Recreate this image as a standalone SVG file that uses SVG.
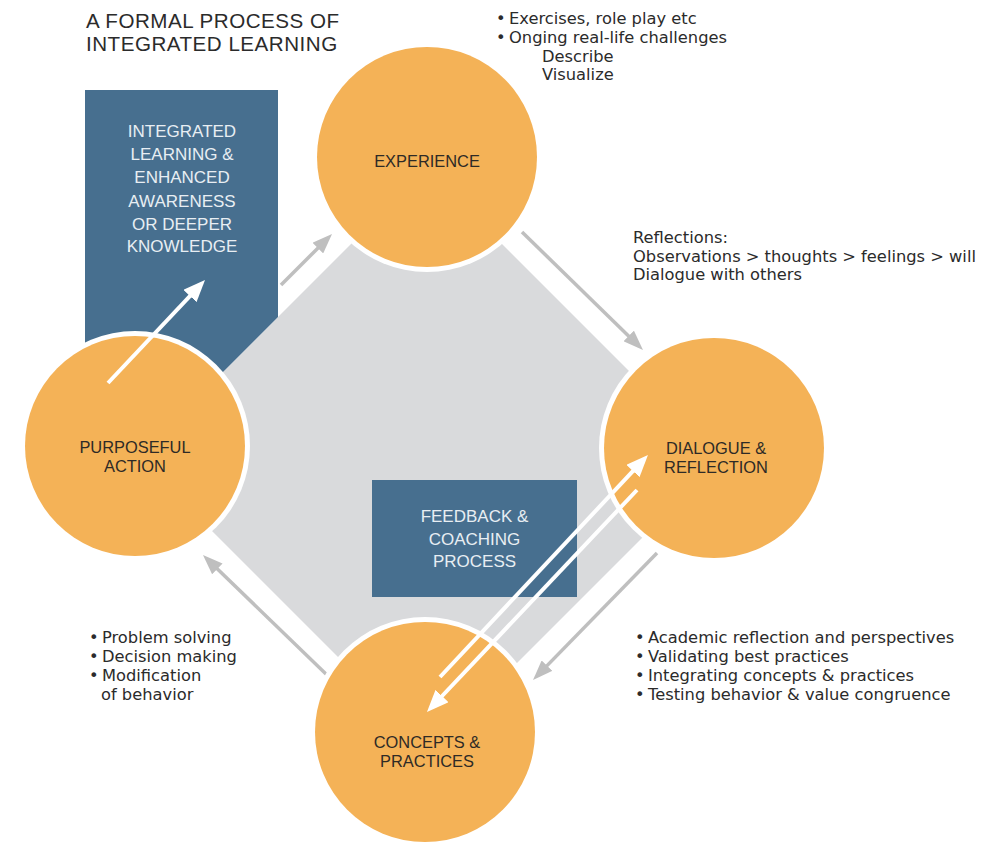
<svg xmlns="http://www.w3.org/2000/svg" width="997" height="847" viewBox="0 0 997 847">
  <defs>
    <style>
      .bg { fill: #ffffff; }
      .diamond { fill: #d9dadc; }
      .box { fill: #476f8f; }
      .ring { fill: #ffffff; }
      .disc { fill: #f4b257; }
      .lbl { font-family: "Liberation Sans", Arial, sans-serif; font-size: 16.4px; fill: #2e2a26; text-anchor: middle; }
      .boxlbl { font-family: "Liberation Sans", Arial, sans-serif; font-size: 17px; fill: #e8eef3; text-anchor: middle; }
      .title { font-family: "Liberation Sans", Arial, sans-serif; font-size: 20.6px; letter-spacing: 0.5px; fill: #2b2b2b; }
      .note { font-family: "DejaVu Sans", sans-serif; font-size: 16.3px; fill: #2b2b2b; }
      .garrow { stroke: #bfbfbf; stroke-width: 3.5; fill: none; marker-end: url(#ghead); }
      .warrow { stroke: #ffffff; stroke-width: 4; fill: none; marker-end: url(#whead); }
    </style>
    <marker id="ghead" markerUnits="userSpaceOnUse" markerWidth="20" markerHeight="15" refX="2" refY="7.5" orient="auto" viewBox="0 0 20 15">
      <path d="M0,0 L20,7.5 L0,15 z" fill="#bfbfbf"/>
    </marker>
    <marker id="whead" markerUnits="userSpaceOnUse" markerWidth="22" markerHeight="18" refX="2" refY="9" orient="auto" viewBox="0 0 22 18">
      <path d="M0,0 L22,9 L0,18 z" fill="#ffffff"/>
    </marker>
  </defs>

  <rect class="bg" x="0" y="0" width="997" height="847"/>

  <g id="title">
    <text class="title" x="86" y="27.5">A FORMAL PROCESS OF</text>
    <text class="title" x="86" y="51">INTEGRATED LEARNING</text>
  </g>

  <g id="background-diamond">
    <polygon class="diamond" points="426.5,168.5 719,461 430.5,749.5 138,457"/>
  </g>

  <g id="node-integrated-learning">
    <polygon class="box" points="85,90 278,90 278,317 205,390 85,390"/>
    <text class="boxlbl" x="182" y="137">INTEGRATED</text>
    <text class="boxlbl" x="182" y="160">LEARNING &amp;</text>
    <text class="boxlbl" x="182" y="183">ENHANCED</text>
    <text class="boxlbl" x="182" y="207">AWARENESS</text>
    <text class="boxlbl" x="182" y="230">OR DEEPER</text>
    <text class="boxlbl" x="182" y="252">KNOWLEDGE</text>
  </g>

  <g id="node-feedback">
    <rect class="box" x="372" y="480" width="205" height="117"/>
    <text class="boxlbl" x="474.5" y="522">FEEDBACK &amp;</text>
    <text class="boxlbl" x="474.5" y="545">COACHING</text>
    <text class="boxlbl" x="474.5" y="567">PROCESS</text>
  </g>

  <g id="connectors-cycle">
    <line class="garrow" x1="281" y1="285" x2="319.3" y2="246.7"/>
    <line class="garrow" x1="522" y1="232" x2="630.1" y2="337.4"/>
    <line class="garrow" x1="657" y1="553" x2="545.6" y2="667.1"/>
    <line class="garrow" x1="327" y1="675" x2="215.9" y2="567.5"/>
  </g>

  <g id="node-experience">
    <circle class="ring" cx="427" cy="157" r="115"/>
    <circle class="disc" cx="427" cy="157" r="110"/>
    <text class="lbl" x="427" y="167">EXPERIENCE</text>
  </g>

  <g id="node-dialogue">
    <circle class="ring" cx="714" cy="448" r="115"/>
    <circle class="disc" cx="714" cy="448" r="110"/>
    <text class="lbl" x="716" y="454">DIALOGUE &amp;</text>
    <text class="lbl" x="716" y="473">REFLECTION</text>
  </g>

  <g id="node-concepts">
    <circle class="ring" cx="425" cy="732" r="115"/>
    <circle class="disc" cx="425" cy="732" r="110"/>
    <text class="lbl" x="427" y="748">CONCEPTS &amp;</text>
    <text class="lbl" x="427" y="767">PRACTICES</text>
  </g>

  <g id="node-purposeful">
    <circle class="ring" cx="135" cy="446" r="115"/>
    <circle class="disc" cx="135" cy="446" r="110"/>
    <text class="lbl" x="135" y="453">PURPOSEFUL</text>
    <text class="lbl" x="135" y="472">ACTION</text>
  </g>

  <g id="connectors-white">
    <line class="warrow" x1="108" y1="383" x2="191.3" y2="294.6"/>
    <line class="warrow" x1="440" y1="677" x2="634.3" y2="469.6"/>
    <line class="warrow" x1="637" y1="490" x2="440.7" y2="697.5"/>
  </g>

  <g id="notes-experience">
    <text class="note" y="24"><tspan x="496">•</tspan><tspan x="509">Exercises, role play etc</tspan></text>
    <text class="note" y="43"><tspan x="496">•</tspan><tspan x="509">Onging real-life challenges</tspan></text>
    <text class="note" x="542" y="62">Describe</text>
    <text class="note" x="542" y="80">Visualize</text>
  </g>

  <g id="notes-reflection">
    <text class="note" x="633" y="243">Reflections:</text>
    <text class="note" x="633" y="262">Observations &gt; thoughts &gt; feelings &gt; will</text>
    <text class="note" x="633" y="280">Dialogue with others</text>
  </g>

  <g id="notes-concepts">
    <text class="note" y="643"><tspan x="635">•</tspan><tspan x="648">Academic reflection and perspectives</tspan></text>
    <text class="note" y="662"><tspan x="635">•</tspan><tspan x="648">Validating best practices</tspan></text>
    <text class="note" y="681"><tspan x="635">•</tspan><tspan x="648">Integrating concepts &amp; practices</tspan></text>
    <text class="note" y="700"><tspan x="635">•</tspan><tspan x="648">Testing behavior &amp; value congruence</tspan></text>
  </g>

  <g id="notes-action">
    <text class="note" y="643"><tspan x="89">•</tspan><tspan x="102">Problem solving</tspan></text>
    <text class="note" y="662"><tspan x="89">•</tspan><tspan x="102">Decision making</tspan></text>
    <text class="note" y="681"><tspan x="89">•</tspan><tspan x="102">Modification</tspan></text>
    <text class="note" x="101" y="700">of behavior</text>
  </g>
</svg>
